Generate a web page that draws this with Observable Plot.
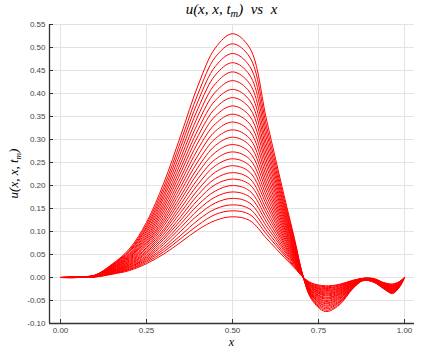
<!DOCTYPE html>
<html><head><meta charset="utf-8">
<script src="https://cdn.jsdelivr.net/npm/d3@7"></script>
<script src="https://cdn.jsdelivr.net/npm/@observablehq/plot@0.6"></script>
<style>body{margin:0;background:#fff}</style>
</head><body><div id="chart"></div>
<script>
const xGrid = [0,0.05,0.10,0.15,0.20,0.25,0.30,0.35,0.40,0.45,0.50,0.55,0.60,0.65,0.68,0.706,0.73,0.77,0.81,0.85,0.88,0.91,0.94,0.965,0.985,1.00];
// one row per time step t_m (values of u along the diagonal)
const curves = [
 [0,0.001,0.005,0.029,0.062,0.120,0.205,0.310,0.418,0.499,0.530,0.499,0.339,0.178,0.085,0,-0.048,-0.074,-0.060,-0.024,-0.007,-0.010,-0.025,-0.035,-0.021,0],
 [0,0.001,0.005,0.028,0.059,0.115,0.196,0.297,0.400,0.479,0.508,0.479,0.325,0.170,0.081,0,-0.046,-0.071,-0.058,-0.023,-0.006,-0.010,-0.024,-0.034,-0.021,0],
 [0,0.001,0.005,0.027,0.057,0.110,0.188,0.285,0.384,0.459,0.487,0.459,0.312,0.163,0.078,0,-0.044,-0.068,-0.055,-0.022,-0.006,-0.009,-0.024,-0.033,-0.020,0],
 [0,0.001,0.005,0.026,0.055,0.106,0.180,0.273,0.368,0.440,0.467,0.440,0.299,0.156,0.075,0,-0.042,-0.065,-0.053,-0.021,-0.006,-0.009,-0.023,-0.032,-0.020,0],
 [0,0.001,0.004,0.025,0.052,0.101,0.173,0.261,0.352,0.421,0.447,0.421,0.286,0.150,0.072,0,-0.040,-0.062,-0.051,-0.020,-0.005,-0.008,-0.023,-0.032,-0.019,0],
 [0,0.001,0.004,0.024,0.050,0.097,0.165,0.250,0.337,0.403,0.428,0.403,0.274,0.143,0.068,0,-0.039,-0.060,-0.048,-0.019,-0.005,-0.008,-0.022,-0.031,-0.019,0],
 [0,0.001,0.004,0.022,0.048,0.092,0.158,0.239,0.322,0.385,0.409,0.385,0.262,0.137,0.065,0,-0.037,-0.057,-0.046,-0.019,-0.005,-0.008,-0.022,-0.030,-0.018,0],
 [0,0.001,0.004,0.022,0.046,0.088,0.151,0.229,0.308,0.368,0.391,0.368,0.250,0.131,0.063,0,-0.035,-0.055,-0.044,-0.018,-0.005,-0.007,-0.021,-0.029,-0.018,0],
 [0,0.001,0.004,0.021,0.044,0.084,0.144,0.218,0.294,0.351,0.373,0.351,0.239,0.125,0.060,0,-0.034,-0.052,-0.042,-0.017,-0.005,-0.007,-0.020,-0.028,-0.017,0],
 [0,0.001,0.004,0.020,0.042,0.080,0.137,0.208,0.280,0.334,0.355,0.334,0.227,0.119,0.057,0,-0.032,-0.050,-0.040,-0.016,-0.004,-0.007,-0.020,-0.027,-0.017,0],
 [0,0.001,0.003,0.019,0.040,0.076,0.130,0.198,0.266,0.318,0.338,0.318,0.216,0.113,0.054,0,-0.031,-0.047,-0.038,-0.015,-0.004,-0.006,-0.019,-0.026,-0.016,0],
 [0,0.001,0.003,0.018,0.038,0.073,0.124,0.188,0.253,0.302,0.321,0.302,0.205,0.108,0.051,0,-0.029,-0.045,-0.036,-0.015,-0.004,-0.006,-0.019,-0.025,-0.016,0],
 [0,0.001,0.003,0.017,0.036,0.069,0.118,0.178,0.240,0.287,0.305,0.287,0.195,0.102,0.049,0,-0.028,-0.043,-0.035,-0.014,-0.004,-0.006,-0.018,-0.025,-0.015,0],
 [0,0.001,0.003,0.016,0.034,0.065,0.112,0.169,0.228,0.272,0.289,0.272,0.185,0.097,0.046,0,-0.026,-0.040,-0.033,-0.013,-0.004,-0.005,-0.017,-0.024,-0.015,0],
 [0,0.001,0.003,0.015,0.032,0.062,0.105,0.160,0.215,0.257,0.273,0.257,0.175,0.091,0.044,0,-0.025,-0.038,-0.031,-0.012,-0.003,-0.005,-0.017,-0.023,-0.014,0],
 [0,0.001,0.003,0.014,0.030,0.058,0.100,0.151,0.203,0.243,0.258,0.243,0.165,0.086,0.041,0,-0.023,-0.036,-0.029,-0.012,-0.003,-0.005,-0.016,-0.022,-0.014,0],
 [0,0,0.002,0.013,0.028,0.055,0.094,0.142,0.191,0.229,0.243,0.229,0.156,0.081,0.039,0,-0.022,-0.034,-0.028,-0.011,-0.003,-0.005,-0.016,-0.021,-0.013,0],
 [0,0,0.002,0.013,0.027,0.052,0.088,0.133,0.180,0.215,0.228,0.215,0.146,0.076,0.036,0,-0.021,-0.032,-0.026,-0.010,-0.003,-0.004,-0.015,-0.020,-0.012,0],
 [0,0,0.002,0.012,0.025,0.048,0.083,0.125,0.169,0.202,0.214,0.202,0.137,0.072,0.034,0,-0.019,-0.030,-0.024,-0.010,-0.003,-0.004,-0.015,-0.019,-0.012,0],
 [0,0,0.002,0.011,0.023,0.045,0.077,0.117,0.158,0.188,0.200,0.188,0.128,0.067,0.032,0,-0.018,-0.028,-0.023,-0.009,-0.002,-0.004,-0.014,-0.018,-0.011,0],
 [0,0,0.002,0.010,0.022,0.042,0.072,0.109,0.147,0.175,0.186,0.175,0.119,0.062,0.030,0,-0.017,-0.026,-0.021,-0.008,-0.002,-0.004,-0.013,-0.018,-0.011,0],
 [0,0,0.002,0.009,0.020,0.039,0.066,0.101,0.136,0.162,0.172,0.162,0.110,0.058,0.028,0,-0.016,-0.024,-0.019,-0.008,-0.002,-0.003,-0.013,-0.017,-0.010,0],
 [0,0,0.002,0.009,0.018,0.036,0.061,0.092,0.125,0.149,0.158,0.149,0.101,0.053,0.025,0,-0.014,-0.022,-0.018,-0.007,-0.002,-0.003,-0.012,-0.016,-0.010,0],
 [0,0,0.001,0.008,0.017,0.033,0.056,0.085,0.114,0.137,0.145,0.137,0.093,0.049,0.023,0,-0.013,-0.020,-0.016,-0.007,-0.002,-0.003,-0.012,-0.015,-0.009,0],
 [0,0,0.001,0.007,0.015,0.030,0.051,0.077,0.104,0.124,0.132,0.124,0.084,0.044,0.021,0,-0.012,-0.018,-0.015,-0.006,-0.002,-0.002,-0.011,-0.014,-0.009,0]
];
const xTicks = [0, 0.25, 0.5, 0.75, 1];
const xTickLabels = ["0.00", "0.25", "0.50", "0.75", "1.00"];
const yTicks = [-0.10,-0.05,0,0.05,0.10,0.15,0.20,0.25,0.30,0.35,0.40,0.45,0.50,0.55];
const yTickLabels = ["-0.10","-0.05","0.00","0.05","0.10","0.15","0.20","0.25","0.30","0.35","0.40","0.45","0.50","0.55"];
const xDomain = [-0.032, 1.029];
const yDomain = [-0.10, 0.55];

const data = curves.flatMap((row, k) => row.map((u, i) => ({k, x: xGrid[i], u})));

const W = 423, H = 353, mL = 49, mR = 9, mT = 24, mB = 30;
const plot = Plot.plot({
  width: W, height: H,
  marginLeft: mL, marginRight: mR, marginTop: mT, marginBottom: mB,
  x: {domain: xDomain},
  y: {domain: yDomain},
  style: {fontFamily: "'Liberation Sans', Arial, sans-serif", fontSize: "8px", background: "white", color: "#444"},
  marks: [
    Plot.gridX(xTicks, {stroke: "#e3e3e3", strokeOpacity: 1, strokeWidth: 1}),
    Plot.gridY(yTicks, {stroke: "#e3e3e3", strokeOpacity: 1, strokeWidth: 1}),
    Plot.line(data, {x: "x", y: "u", z: "k", stroke: "#ff0000", strokeWidth: 1, curve: "catmull-rom"}),
    Plot.ruleX(xTicks, {stroke: "#333", insetTop: H - mT - mB - 4}),
    Plot.ruleY(yTicks, {stroke: "#333", insetRight: W - mL - mR - 4}),
    Plot.ruleX([xDomain[0]], {stroke: "#333", strokeWidth: 1.3}),
    Plot.ruleY([yDomain[0]], {stroke: "#333", strokeWidth: 1.3}),
    Plot.axisX(xTicks, {tickSize: 0, tickPadding: 4, label: null, tickFormat: (d, i) => xTickLabels[i], fill: "#444"}),
    Plot.axisY(yTicks, {tickSize: 0, tickPadding: 4, label: null, tickFormat: (d, i) => yTickLabels[i], fill: "#444"})
  ]
});

const svg = d3.select(plot);
const serif = "'Liberation Serif', 'DejaVu Serif', serif";
const cx = mL + (W - mL - mR) / 2;
const title = svg.append("text").attr("x", cx).attr("y", 14).attr("text-anchor", "middle")
  .attr("font-family", serif).attr("font-style", "italic").attr("font-size", 15).attr("fill", "#000")
  .style("white-space", "pre");
title.append("tspan").text("u(x, x, t");
title.append("tspan").attr("font-size", 10.5).attr("dy", 3).text("m");
title.append("tspan").attr("dy", -3).text(")  vs  x");

const ylab = svg.append("text").attr("transform", `translate(18,${mT + (H - mT - mB) / 2}) rotate(-90)`)
  .attr("text-anchor", "middle").attr("font-family", serif).attr("font-style", "italic")
  .attr("font-size", 13).attr("fill", "#000").style("white-space", "pre");
ylab.append("tspan").text("u(x, x, t");
ylab.append("tspan").attr("font-size", 9).attr("dy", 3).text("m");
ylab.append("tspan").attr("dy", -3).text(")");

svg.append("text").attr("x", cx).attr("y", 346).attr("text-anchor", "middle")
  .attr("font-family", serif).attr("font-style", "italic").attr("font-size", 12).attr("fill", "#000").text("x");

document.getElementById("chart").appendChild(plot);
</script>
</body></html>
